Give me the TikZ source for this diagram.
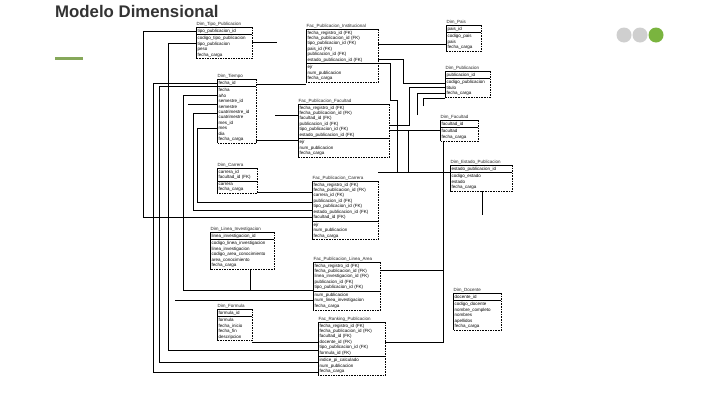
\documentclass[tikz,border=0pt]{standalone}
\usepackage{fontspec}
\setmainfont{Liberation Sans}
\usetikzlibrary{positioning}

\definecolor{titlegray}{HTML}{333333}
\definecolor{accentgreen}{HTML}{86A85A}
\definecolor{dotgray}{HTML}{CFCFCF}
\definecolor{dotgreen}{HTML}{7AB43F}

\begin{document}
\begin{tikzpicture}[x=1pt, y=-1pt,
    entkey/.style={anchor=north west, inner xsep=1.5pt, inner ysep=1.6pt, align=left,
        font=\fontsize{4.5}{5.4}\selectfont},
    enttitle/.style={inner sep=0.4pt, font=\fontsize{4.5}{5.4}\selectfont, text=black!85},
    entline/.style={line width=0.7pt},
    conn/.style={line width=0.7pt}]
    \fill[white] (0,0) rectangle (720,405);
    \useasboundingbox (0,0) rectangle (720,405);

    % header
    \node[anchor=north west, inner sep=0pt, text=titlegray,
        font=\fontsize{16.8}{17}\bfseries] (title) at (55,5.5) {Modelo Dimensional};
    \fill[accentgreen] (55,57) rectangle (83,60);
    \fill[dotgray] (624,35) circle (7.5);
    \fill[dotgray] (640,35) circle (7.5);
    \fill[dotgreen] (656,35) circle (7.5);

    % dimensiones
    \node[entkey, text width=53pt] (tp-k) at (196,27) {tipo\_publicacion\_id};
    \node[entkey, text width=53pt, below=0pt of tp-k] (tp-a) {codigo\_tipo\_publicacion\\tipo\_publicacion\\peso\\fecha\_carga};
    \node[enttitle, above right=0pt of tp-k.north west] {Dim\_Tipo\_Publicacion};

    \node[entkey, text width=32pt] (pa-k) at (446,25) {pais\_id};
    \node[entkey, text width=32pt, below=0pt of pa-k] (pa-a) {codigo\_pais\\pais\\fecha\_carga};
    \node[enttitle, above right=0pt of pa-k.north west] {Dim\_Pais};

    \node[entkey, text width=42pt] (pu-k) at (445,71) {publicacion\_id};
    \node[entkey, text width=42pt, below=0pt of pu-k] (pu-a) {codigo\_publicacion\\titulo\\fecha\_carga};
    \node[enttitle, above right=0pt of pu-k.north west] {Dim\_Publicacion};

    \node[entkey, text width=36pt] (ti-k) at (217,79) {fecha\_id};
    \node[entkey, text width=36pt, below=0pt of ti-k] (ti-a) {fecha\\año\\semestre\_id\\semestre\\cuatrimestre\_id\\cuatrimestre\\mes\_id\\mes\\dia\\fecha\_carga};
    \node[enttitle, above right=0pt of ti-k.north west] {Dim\_Tiempo};

    \node[entkey, text width=35pt] (fa-k) at (440,120) {facultad\_id};
    \node[entkey, text width=35pt, below=0pt of fa-k] (fa-a) {facultad\\fecha\_carga};
    \node[enttitle, above right=0pt of fa-k.north west] {Dim\_Facultad};

    \node[entkey, text width=59pt] (es-k) at (450,165) {estado\_publicacion\_id};
    \node[entkey, text width=59pt, below=0pt of es-k] (es-a) {codigo\_estado\\estado\\fecha\_carga};
    \node[enttitle, above right=0pt of es-k.north west] {Dim\_Estado\_Publicacion};

    \node[entkey, text width=37pt] (ca-k) at (217,168) {carrera\_id\\facultad\_id (FK)};
    \node[entkey, text width=37pt, below=0pt of ca-k] (ca-a) {carrera\\fecha\_carga};
    \node[enttitle, above right=0pt of ca-k.north west] {Dim\_Carrera};

    \node[entkey, text width=61pt] (li-k) at (210,232) {linea\_investigacion\_id};
    \node[entkey, text width=61pt, below=0pt of li-k] (li-a) {codigo\_linea\_investigacion\\linea\_investigacion\\codigo\_area\_conocimiento\\area\_conocimiento\\fecha\_carga};
    \node[enttitle, above right=0pt of li-k.north west] {Dim\_Linea\_Investigacion};

    \node[entkey, text width=32pt] (fo-k) at (217,309) {formula\_id};
    \node[entkey, text width=32pt, below=0pt of fo-k] (fo-a) {formula\\fecha\_inicio\\fecha\_fin\\descripcion};
    \node[enttitle, above right=0pt of fo-k.north west] {Dim\_Formula};

    \node[entkey, text width=45pt] (dc-k) at (453,293) {docente\_id};
    \node[entkey, text width=45pt, below=0pt of dc-k] (dc-a) {codigo\_docente\\nombre\_completo\\nombres\\apellidos\\fecha\_carga};
    \node[enttitle, above right=0pt of dc-k.north west] {Dim\_Docente};

    % hechos
    \node[entkey, text width=69pt] (fi-k) at (306,29) {fecha\_registro\_id (FK)\\fecha\_publicacion\_id (FK)\\tipo\_publicacion\_id (FK)\\pais\_id (FK)\\publicacion\_id (FK)\\estado\_publicacion\_id (FK)};
    \node[entkey, text width=69pt, below=0pt of fi-k] (fi-a) {ejr\\num\_publicacion\\fecha\_carga};
    \node[enttitle, above right=0pt of fi-k.north west] {Fac\_Publicacion\_Institucional};

    \node[entkey, text width=88pt] (ff-k) at (298,104) {fecha\_registro\_id (FK)\\fecha\_publicacion\_id (FK)\\facultad\_id (FK)\\publicacion\_id (FK)\\tipo\_publicacion\_id (FK)\\estado\_publicacion\_id (FK)};
    \node[entkey, text width=88pt, below=0pt of ff-k] (ff-a) {ejr\\num\_publicacion\\fecha\_carga};
    \node[enttitle, above right=0pt of ff-k.north west] {Fac\_Publicacion\_Facultad};

    \node[entkey, text width=63pt] (fc-k) at (312,181) {fecha\_registro\_id (FK)\\fecha\_publicacion\_id (FK)\\carrera\_id (FK)\\publicacion\_id (FK)\\tipo\_publicacion\_id (FK)\\estado\_publicacion\_id (FK)\\facultad\_id (FK)};
    \node[entkey, text width=63pt, below=0pt of fc-k] (fc-a) {ejr\\num\_publicacion\\fecha\_carga};
    \node[enttitle, above right=0pt of fc-k.north west] {Fac\_Publicacion\_Carrera};

    \node[entkey, text width=64pt] (la-k) at (313,262) {fecha\_registro\_id (FK)\\fecha\_publicacion\_id (FK)\\linea\_investigacion\_id (FK)\\publicacion\_id (FK)\\tipo\_publicacion\_id (FK)};
    \node[entkey, text width=64pt, below=0pt of la-k] (la-a) {num\_publicacion\\num\_linea\_investigacion\\fecha\_carga};
    \node[enttitle, above right=0pt of la-k.north west] {Fac\_Publicacion\_Linea\_Area};

    \node[entkey, text width=64pt] (rk-k) at (318,322) {fecha\_registro\_id (FK)\\fecha\_publicacion\_id (FK)\\facultad\_id (FK)\\docente\_id (FK)\\tipo\_publicacion\_id (FK)\\formula\_id (FK)};
    \node[entkey, text width=64pt, below=0pt of rk-k] (rk-a) {indice\_pi\_calculado\\num\_publicacion\\fecha\_carga};
    \node[enttitle, above right=0pt of rk-k.north west] {Fac\_Ranking\_Publicacion};

    % bordes: lineas arriba/izquierda, guiones abajo/derecha
    \foreach \e in {tp,pa,pu,ti,fa,es,ca,li,fo,dc,fi,ff,fc,la,rk}{
        \draw[entline] (\e-k.north east) -- (\e-k.north west) -- (\e-a.south west);
        \draw[entline] (\e-k.south west) -- (\e-k.south east);
        \draw[entline, dash pattern=on 1.6pt off 1pt] (\e-k.north east) -- (\e-a.south east) -- (\e-a.south west);
    }

    % relaciones lado izquierdo
    \draw[conn] (tp-k.west) -| (143,217) -- (fc-k.west |- 0,217);
    \draw[conn] (tp-a.west |- 0,43) -| (168,350) -- (rk-k.west |- 0,350);
    \draw[conn] (tp-k.east |- 0,42) -- (277,42);
    \draw[conn] (ti-k.west) -| (153,372) -- (rk-a.west |- 0,372);
    \draw[conn] (ti-k.south west) -| (159,362) -- (rk-a.west |- 0,362);
    \draw[conn] (ti-a.west |- 0,95) -| (183,290) -- (la-k.west |- 0,290);
    \draw[conn] (188,104) -- (ti-a.west |- 0,104);
    \draw[conn] (ti-a.west |- 0,113) -| (193,210) -- (fc-k.west |- 0,210);
    \draw[conn] (ti-a.west |- 0,128) -| (197,202) -- (fc-k.west |- 0,202);
    \draw[conn] (ti-k.east |- 0,84) -- (fi-a.west |- 0,84);
    \draw[conn] (ti-a.east |- 0,140) -- (ff-k.west |- 0,140);
    \draw[conn] (275,115) -- (ff-k.west |- 0,115);
    \draw[conn] (ca-a.east |- 0,192) -- (fc-k.west |- 0,192);
    \draw[conn] (li-a.south -| 250,0) -- (250,290);
    \draw[conn] (175,300) -- (la-k.west |- 0,300);
    \draw[conn] (fo-a.east |- 0,342) -- (rk-k.west |- 0,342);

    % relaciones lado derecho
    \draw[conn] (fi-k.east |- 0,44) -- (pa-a.west |- 0,44);
    \draw[conn] (fi-k.east |- 0,59) -| (403,83) -- (pu-a.west |- 0,83);
    \draw[conn] (fi-k.east |- 0,63) -| (390,100) -| (397,172);
    \draw[conn] (ff-k.east |- 0,125) -| (409,87) -- (pu-a.west |- 0,87);
    \draw[conn] (417,115) |- (pu-a.west |- 0,93);
    \draw[conn] (423,106) |- (pu-a.west |- 0,98);
    \draw[conn] (ff-k.east |- 0,130) -- (fa-k.west |- 0,130);
    \draw[conn] (408,130) -- (408,172);
    \draw[conn] (fc-k.east |- 0,172) -- (es-k.west |- 0,172);
    \draw[conn] (fa-a.south -| 443,0) |- (rk-k.east |- 0,342);
    \draw[conn] (la-k.east |- 0,270) -- (443,270);
    \draw[conn] (es-a.south -| 482,0) -- (482,215);
\end{tikzpicture}
\end{document}
